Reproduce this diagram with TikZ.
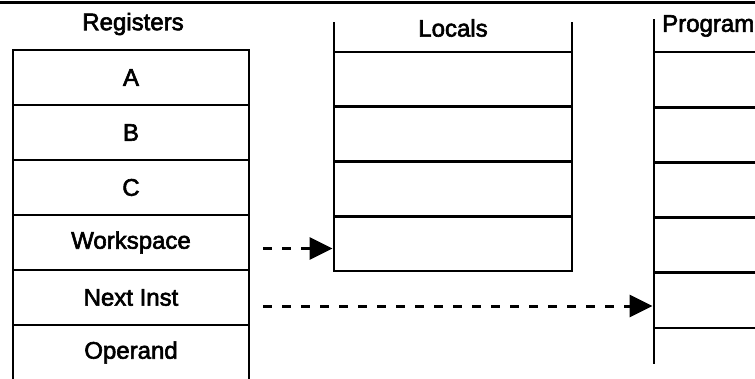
\documentclass[tikz,border=0pt]{standalone}
\usepackage{fontspec}
\setmainfont{Liberation Sans}
\newfontfamily\lblfont[FakeBold=2.5]{Liberation Sans}
\usetikzlibrary{arrows.meta}
\begin{document}
\begin{tikzpicture}[x=1pt,y=1pt,
  line cap=rect,
  lbl/.style={font=\lblfont\fontsize{24}{27}\selectfont, inner sep=0pt},
  reg/.style={draw, line width=2.8pt, outer sep=0pt, minimum width=236pt, minimum height=55pt, inner sep=0pt, font=\lblfont\fontsize{24}{27}\selectfont},
  regopen/.style={outer sep=0pt, minimum width=236pt, minimum height=55pt, inner sep=0pt, font=\lblfont\fontsize{24}{27}\selectfont},
  loc/.style={draw, line width=2.8pt, outer sep=0pt, minimum width=238pt, minimum height=54.75pt, inner sep=0pt},
  prog/.style={outer sep=0pt, minimum width=101pt, minimum height=55.2pt, inner sep=0pt},
  edge/.style={line width=2.8pt},
  ptr/.style={line width=3pt, line cap=butt, dash pattern=on 9pt off 10pt, -{Triangle[length=23pt,width=22pt]}}
]
\useasboundingbox (0,0) rectangle (755,378);
% top rule
\draw[line width=3pt] (0,375.5) -- (755,375.5);

% Registers
\node[lbl] (regt) at (133,354) {Registers};
\node[reg] (ra) at (131,300.5) {A};
\node[reg] (rb) at (131,245.5) {B};
\node[reg] (rc) at (131,190.5) {C};
\node[reg] (ws) at (131,135.5) {Workspace};
\node[reg] (ni) at (131,80.5) {Next Inst};
\node[regopen] (op) at (131,25.5) {Operand};
\draw[edge] (op.north west) -- (op.south west);
\draw[edge] (op.north east) -- (op.south east);

% Locals
\node[lbl] (loct) at (453,350) {Locals};
\node[loc] (l1) at (453,298.6) {};
\node[loc] (l2) at (453,243.9) {};
\node[loc] (l3) at (453,189.1) {};
\node[loc] (l4) at (453,134.4) {};
\coordinate (ltl) at (334,355);
\coordinate (ltr) at (572,355);
\draw[edge] (l1.north west) -- (ltl);
\draw[edge] (l1.north east) -- (ltr);

% Program
\node[lbl, anchor=west] (progt) at (662,352) {Program};
\node[prog] (p1) at (704.5,298.4) {};
\node[prog] (p2) at (704.5,243.2) {};
\node[prog] (p3) at (704.5,188.0) {};
\node[prog] (p4) at (704.5,132.8) {};
\node[prog] (p5) at (704.5,77.6) {};
\coordinate (ptop) at (654,358);
\coordinate (pbot) at (654,15);
\draw[edge] (ptop) -- (pbot);
\foreach \c in {p1,p2,p3,p4,p5} {
  \draw[edge] (\c.north west) -- (\c.north east);
}
\draw[edge] (p5.south west) -- (p5.south east);

% pointers
\draw[ptr] ([xshift=14pt,yshift=-6pt]ws.east) -- ([xshift=-1.4pt,yshift=-6pt]ws.east -| l4.west);
\draw[ptr] ([xshift=14pt,yshift=-8.5pt]ni.east) -- ([xshift=-1.4pt,yshift=-8.5pt]ni.east -| p5.west);
\end{tikzpicture}
\end{document}
